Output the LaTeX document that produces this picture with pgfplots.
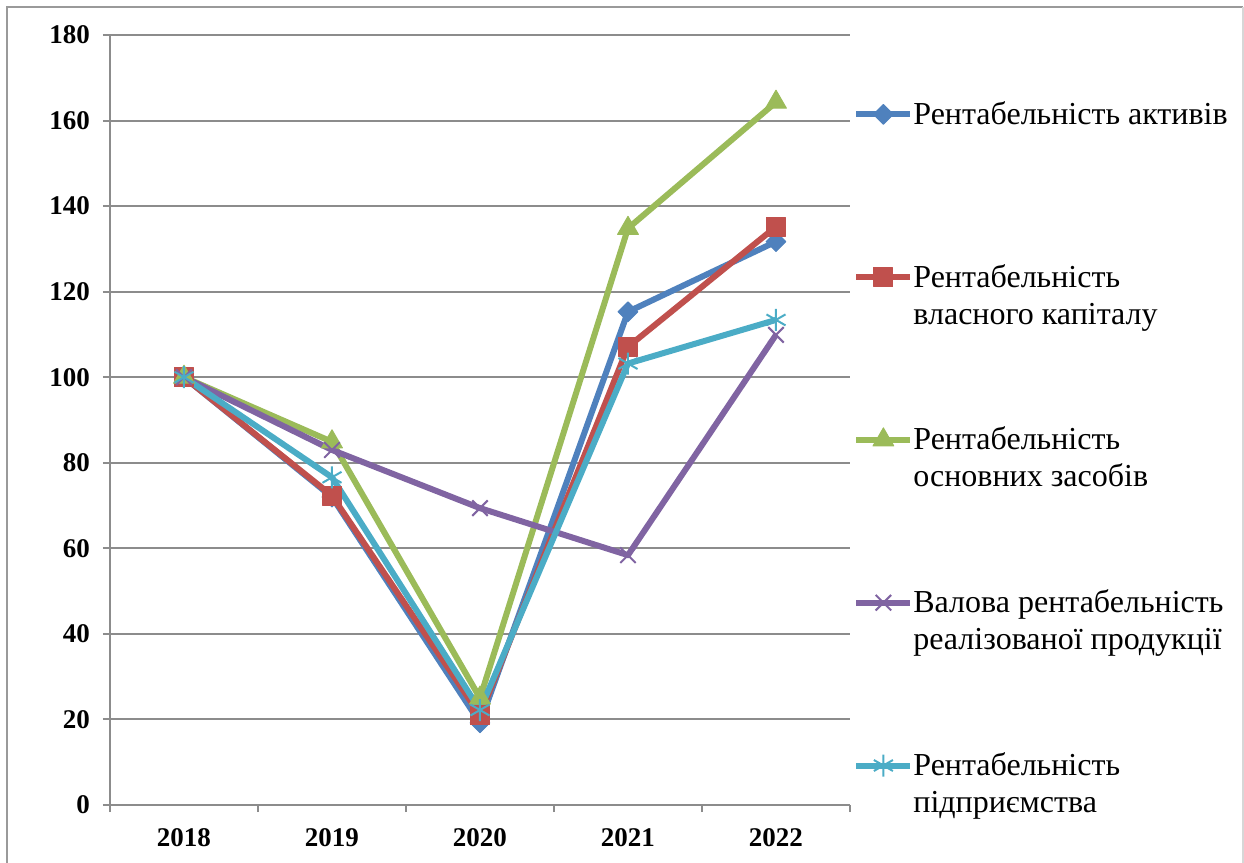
\documentclass[border=0pt]{standalone}
\usepackage{pgfplots}
\pgfplotsset{compat=1.18}
\usepackage{fontspec}
\setmainfont{Liberation Serif}

\definecolor{sBlue}{HTML}{4F81BD}
\definecolor{sRed}{HTML}{C0504D}
\definecolor{sGreen}{HTML}{9BBB59}
\definecolor{sPurple}{HTML}{8064A2}
\definecolor{sCyan}{HTML}{4BACC6}
\definecolor{gridgray}{HTML}{8C8C8C}
\definecolor{framegray}{HTML}{9A9A9A}

% legend text: every entry gets the same fixed height, first line on the baseline
\newcommand{\entry}[1]{\parbox[t][81.4pt][t]{170pt}{\raggedright #1}}

\begin{document}
\begin{tikzpicture}
\path[use as bounding box] (0,0) rectangle (622pt,431.5pt);
\draw[framegray, line width=0.6pt] (3.5pt,0) -- (3.5pt,428pt) -- (621.5pt,428pt);
\draw[framegray!40, line width=0.6pt] (621.5pt,428pt) -- (621.5pt,0);
\begin{axis}[
  at={(55pt,29pt)}, anchor=south west,
  scale only axis, width=370pt, height=385pt,
  xmin=-0.5, xmax=4.5, ymin=0, ymax=180,
  xtick={0,1,2,3,4},
  xticklabels={2018,2019,2020,2021,2022},
  minor xtick={-0.5,0.5,1.5,2.5,3.5,4.5},
  ytick={0,20,...,180},
  ymajorgrids,
  major grid style={gridgray, line width=1pt},
  axis x line*=bottom, axis y line*=left,
  axis line style={gridgray, line width=1pt, -},
  tick align=outside,
  major tick length=3.5pt, minor tick length=3.5pt,
  tick style={gridgray, line width=1pt},
  major x tick style={draw=none},
  /pgf/number format/assume math mode=true,
  ticklabel style={font=\fontsize{13.5}{16}\selectfont\bfseries},
  xticklabel style={yshift=-4.5pt},
  yticklabel style={xshift=-3pt},
  clip=false,
  legend cell align=left,
  legend style={
    at={(axis description cs:1,1)}, anchor=north west,
    xshift=1.5pt, yshift=-33pt,
    draw=none, fill=none, inner sep=0pt,
    font=\fontsize{16}{18.5}\selectfont,
    row sep=0pt,
    nodes={inner sep=0pt, text depth=, text height=},
    cells={anchor=base west},
    /tikz/every even column/.append style={column sep=3pt},
  },
  legend image code/.code={%
    \draw[mark repeat=2,mark phase=2,#1]
      plot coordinates {(0pt,5pt) (13.5pt,5pt) (27pt,5pt)};},
  every axis plot/.append style={line width=3pt, line join=round},
]
% Рентабельність активів
\addplot[sBlue, mark=square*, mark options={rotate=45, mark size=3.5pt, line width=0.5pt, fill=sBlue}]
  coordinates {(0,100) (1,72.0) (2,19.2) (3,115.3) (4,131.7)};
% Рентабельність власного капіталу
\addplot[sRed, mark=square*, mark options={mark size=4.75pt, line width=0.5pt, fill=sRed}]
  coordinates {(0,100) (1,72.3) (2,21.0) (3,107.1) (4,135.2)};
% Рентабельність основних засобів
\addplot[sGreen, mark=triangle*, mark options={mark size=6pt, line width=0.5pt, fill=sGreen}]
  coordinates {(0,100) (1,84.9) (2,25.0) (3,134.8) (4,164.3)};
% Валова рентабельність реалізованої продукції
\addplot[sPurple, mark=x, mark options={mark size=5.5pt, line width=1pt}]
  coordinates {(0,100) (1,83.0) (2,69.4) (3,58.4) (4,109.9)};
% Рентабельність підприємства
\addplot[sCyan, mark=asterisk, mark options={mark size=5.5pt, line width=1pt}]
  coordinates {(0,100) (1,76.6) (2,22.2) (3,103.2) (4,113.4)};
\legend{
  \entry{Рентабельність активів},
  \entry{Рентабельність\\власного капіталу},
  \entry{Рентабельність\\основних засобів},
  \entry{Валова рентабельність\\реалізованої продукції},
  \entry{Рентабельність\\підприємства}}
\end{axis}
\end{tikzpicture}
\end{document}
